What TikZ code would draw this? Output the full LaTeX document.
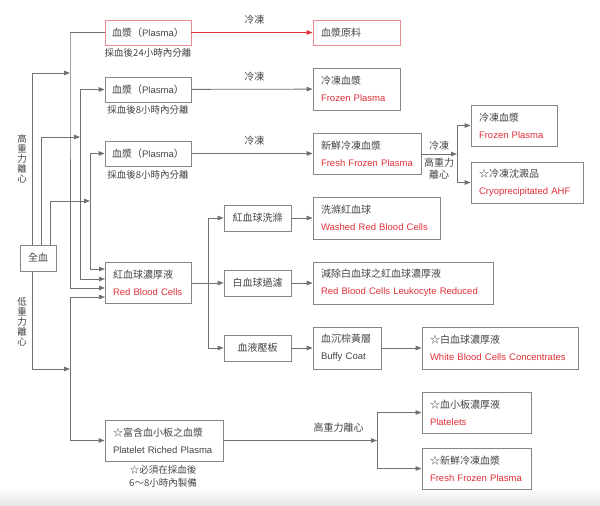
\documentclass[tikz,border=0pt]{standalone}
\usepackage{fontspec}
\setmainfont{Liberation Sans}
\newfontfamily\cjk{Noto Sans CJK TC}
\usetikzlibrary{arrows.meta}
\definecolor{txtgray}{HTML}{444444}
\definecolor{redtxt}{HTML}{E0303A}
\definecolor{bord}{HTML}{858585}
\definecolor{redbord}{HTML}{E88A8F}
\definecolor{linegray}{HTML}{707070}
\newcommand{\rt}[1]{\mbox{\textcolor{redtxt}{#1}}}
\newcommand{\cj}[1]{\mbox{\cjk\fontsize{10}{17}\selectfont #1}}
\begin{document}
\begin{tikzpicture}[x=1pt,y=-1pt,
  box/.style={draw=bord, line width=0.8pt, fill=white, text=txtgray, inner ysep=0pt,
    font=\fontsize{9.5}{17}\selectfont},
  cbox/.style={box, align=center, inner xsep=0pt},
  lbox/.style={box, align=left, inner xsep=8pt, minimum height=42pt},
  captext/.style={text=txtgray, font=\cjk\fontsize{9.5}{13}\selectfont, inner sep=0pt, align=center},
  lab/.style={text=txtgray, font=\cjk\fontsize{10}{11}\selectfont, inner sep=0pt, align=center},
  conn/.style={draw=linegray, line width=0.8pt},
  arr/.style={conn, -{Triangle[length=6pt,width=4.5pt]}},
  rarr/.style={draw=redtxt, line width=0.8pt, -{Triangle[length=6pt,width=4.5pt]}}
]
\useasboundingbox (0,0) rectangle (600,506);
\shade[top color=white, bottom color=black!10] (0,488) rectangle (600,506);

% left column
\node[cbox, minimum width=36pt, minimum height=26pt] (wb) at (38,258) {\cj{全血}};
\node[lab, font=\cjk\fontsize{9.5}{10}\selectfont] (hi) at (22,159) {高\\重\\力\\離\\心};
\node[lab, font=\cjk\fontsize{9.5}{10}\selectfont] (lo) at (22,322) {低\\重\\力\\離\\心};

% plasma boxes
\node[cbox, draw=redbord, minimum width=86pt, minimum height=25pt] (p1) at (148,32.5) {\cj{血漿（}Plasma\cj{）}};
\node[captext] (c1) at (148,53) {採血後24小時內分離};
\node[cbox, minimum width=86pt, minimum height=25pt] (p2) at (148,89.5) {\cj{血漿（}Plasma\cj{）}};
\node[captext] (c2) at (148,110) {採血後8小時內分離};
\node[cbox, minimum width=86pt, minimum height=25pt] (p3) at (148,153.5) {\cj{血漿（}Plasma\cj{）}};
\node[captext] (c3) at (148,175) {採血後8小時內分離};

\node[lbox, text width=70pt, minimum height=41pt] (rbc) at (148,282.5) {\cj{紅血球濃厚液}\\\rt{Red Blood Cells}};

\node[lbox, text width=102pt, minimum height=41pt] (prp) at (164,440.5) {\cj{☆富含血小板之血漿}\\\mbox{Platelet Riched Plasma}};
\node[captext] (c4) at (163,476) {☆必須在採血後\\6～8小時內製備};

% right products
\node[lbox, draw=redbord, text width=71pt, minimum height=25pt] (raw) at (356.5,32.5) {\cj{血漿原料}};
\node[lbox, text width=71pt] (fp1) at (356.5,89) {\cj{冷凍血漿}\\\rt{Frozen Plasma}};
\node[lbox, text width=92pt, minimum height=41pt] (ffp) at (367,153.5) {\cj{新鮮冷凍血漿}\\\rt{Fresh Frozen Plasma}};
\node[lbox, text width=70pt, minimum height=41pt] (fp2) at (514,125.5) {\cj{冷凍血漿}\\\rt{Frozen Plasma}};
\node[lbox, text width=96pt, minimum height=41pt] (cryo) at (527,182.5) {\cj{☆冷凍沈澱品}\\\rt{Cryoprecipitated AHF}};

% RBC processing
\node[cbox, minimum width=67pt, minimum height=26pt] (wash) at (257.5,218) {\cj{紅血球洗滌}};
\node[cbox, minimum width=67pt, minimum height=26pt] (filt) at (257.5,283) {\cj{白血球過濾}};
\node[cbox, minimum width=67pt, minimum height=26pt] (press) at (257.5,348) {\cj{血液壓板}};
\node[lbox, text width=111pt] (washed) at (376.5,218) {\cj{洗滌紅血球}\\\rt{Washed Red Blood Cells}};
\node[lbox, text width=164pt] (leuko) at (403,283) {\cj{減除白血球之紅血球濃厚液}\\\rt{Red Blood Cells Leukocyte Reduced}};
\node[lbox, text width=52pt] (buffy) at (347,348) {\cj{血沉棕黃層}\\\mbox{Buffy Coat}};
\node[lbox, text width=140pt] (wbc) at (500,348) {\cj{☆白血球濃厚液}\\\rt{White Blood Cells Concentrates}};

% platelet products
\node[lbox, text width=93pt, minimum height=41pt] (plt) at (476.5,412.5) {\cj{☆血小板濃厚液}\\\rt{Platelets}};
\node[lbox, text width=93pt, minimum height=41pt] (ffp2) at (476.5,468.5) {\cj{☆新鮮冷凍血漿}\\\rt{Fresh Frozen Plasma}};

% junction coordinates
\coordinate (a1) at (32,245); \coordinate (j1) at (70,73);
\coordinate (a2) at (41,245); \coordinate (j2) at (80,137);
\coordinate (a3) at (50,245); \coordinate (j3) at (90,201);
\coordinate (a4) at (32,271); \coordinate (j4) at (70,369);
\coordinate (v1) at (70,33);  \coordinate (e1) at (105,288);
\coordinate (v2) at (80,89.5);  \coordinate (e2) at (105,279);
\coordinate (v3) at (90,153.5);  \coordinate (e3) at (105,269);
\coordinate (v4) at (70,297); \coordinate (e4) at (105,297);
\coordinate (r1) at (208,283);
\coordinate (s1) at (457,154);
\coordinate (s2) at (377,440.5);

% whole blood to junctions
\draw[arr] (a1) |- (j1);
\draw[arr] (a2) |- (j2);
\draw[arr] (a3) |- (j3);
\draw[arr] (a4) |- (j4);

% verticals
\draw[arr] (p1.west) -| (v1) |- (e1);
\draw[arr] (v2) |- (e2);
\draw[arr] (v2) -- (p2.west);
\draw[arr] (v3) |- (e3);
\draw[arr] (v3) -- (p3.west);
\draw[arr] (v4) -- (e4);
\draw[arr] (v4) |- (prp.west);

% plasma freezing
\draw[rarr] (p1) -- node[lab, above=8pt, pos=0.52] (f1) {冷凍} (raw);
\draw[arr] (p2) -- node[lab, above=8pt, pos=0.52] (f2) {冷凍} (fp1);
\draw[arr] (p3) -- node[lab, above=8pt, pos=0.52] (f3) {冷凍} (ffp);

% FFP split
\draw[arr] (ffp.east |- s1) -- (s1);
\node[lab] (f4) at (439,146) {冷凍};
\node[lab, font=\cjk\fontsize{10}{12}\selectfont] (f5) at (439,168.5) {高重力\\離心};
\draw[arr] (s1) |- (fp2.west);
\draw[arr] (s1) |- (cryo.west);

% RBC processing
\draw[arr] (rbc.east |- r1) -- (filt.west);
\draw[arr] (r1) |- (wash.west);
\draw[arr] (r1) |- (press.west);
\draw[arr] (wash) -- (washed);
\draw[arr] (filt) -- (leuko);
\draw[arr] (press) -- (buffy);
\draw[arr] (buffy) -- (wbc);

% PRP split
\draw[arr] (prp.east) -- node[lab, above=8pt, pos=0.75] (f6) {高重力離心} (s2);
\draw[arr] (s2) |- (plt.west);
\draw[arr] (s2) |- (ffp2.west);
\end{tikzpicture}
\end{document}
